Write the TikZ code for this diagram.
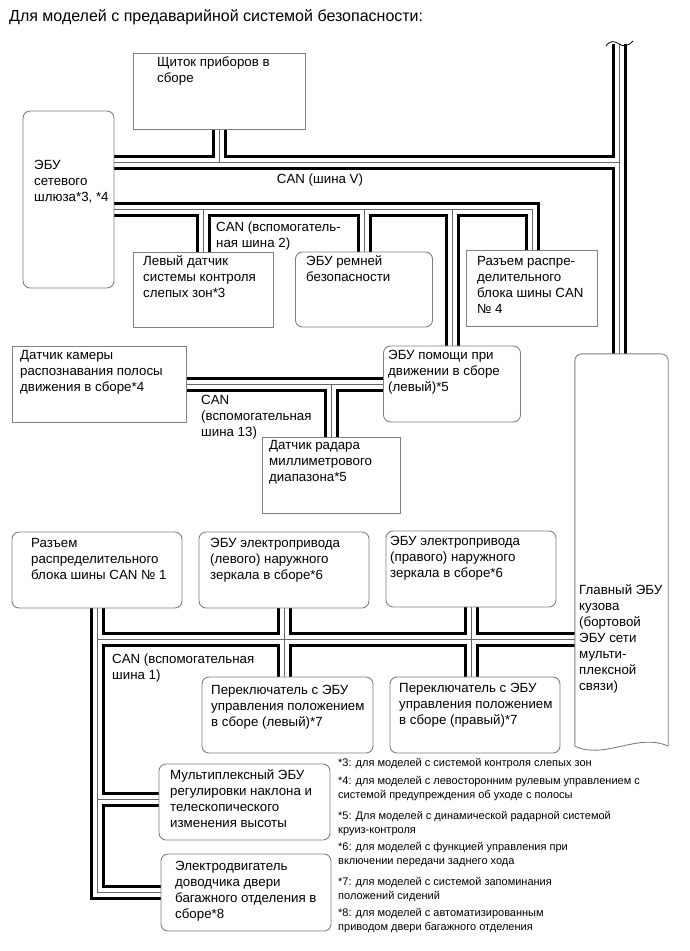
\documentclass[tikz,border=0pt]{standalone}
\usepackage{fontspec}
\setmainfont{Liberation Sans}
\usetikzlibrary{calc}
\pgfdeclarelayer{bg}
\pgfsetlayers{bg,main}
\begin{document}
\begin{tikzpicture}[x=1pt,y=-1pt,
  boxline/.style={draw=black!50, line width=0.9pt},
  sqbox/.style={boxline, rectangle, inner sep=0pt},
  rbox/.style={boxline, rectangle, rounded corners=7pt, inner sep=0pt},
  txt/.style={font=\fontsize{13.3}{16}\selectfont, align=left, inner sep=0pt, anchor=north west},
  note/.style={font=\fontsize{11}{14}\selectfont, align=left, inner sep=0pt, anchor=north west},
  busA/.style={line width=15pt, black, line join=miter, line cap=butt},
  busB/.style={line width=9pt, white, line join=miter, line cap=butt},
  busC/.style={line width=0.8pt, black!60, line join=miter, line cap=butt},
]
\useasboundingbox (0,0) rectangle (690,951);

% title
\node[txt, font=\fontsize{16}{19}\selectfont] (title) at (9,8.2) {\strut Для моделей с предаварийной системой безопасности:};

% boxes
\node[sqbox, minimum width=172pt, minimum height=76pt] (shchitok) at (219,91) {};
\node[rbox, minimum width=91pt, minimum height=177pt] (gateway) at (68.5,199.5) {};
\node[sqbox, minimum width=140pt, minimum height=75pt] (leftsensor) at (203,289.5) {};
\node[rbox, minimum width=137pt, minimum height=75pt] (belt) at (364,289.5) {};
\node[sqbox, minimum width=131pt, minimum height=76pt] (conn4) at (532,288) {};
\node[sqbox, minimum width=174pt, minimum height=76pt] (camera) at (99,384) {};
\node[rbox, minimum width=137pt, minimum height=76pt] (assist) at (452,384) {};
\node[sqbox, minimum width=138pt, minimum height=76pt] (radar) at (331,475) {};
\node[rbox, minimum width=170pt, minimum height=76pt] (conn1) at (97,570) {};
\node[rbox, minimum width=170pt, minimum height=76pt] (mirrorL) at (284,570) {};
\node[rbox, minimum width=170pt, minimum height=76pt] (mirrorR) at (471,569) {};
\node[rbox, minimum width=171pt, minimum height=76pt] (switchL) at (287.5,715) {};
\node[rbox, minimum width=170pt, minimum height=76pt] (switchR) at (475,715) {};
\node[rbox, minimum width=171pt, minimum height=76pt] (multi) at (244.5,802) {};
\node[rbox, minimum width=170pt, minimum height=77pt] (motor) at (246,892.5) {};
\node[rectangle, inner sep=0pt, minimum width=93pt, minimum height=392pt] (mainecu) at (621.5,550) {};
\draw[boxline, rounded corners=7pt] (mainecu.south west) -- (mainecu.north west) -- (mainecu.north east) -- (mainecu.south east);
\draw[boxline] (mainecu.south west) .. controls +(30,14) and +(-30,-14) .. (mainecu.south east);

% bus coordinates
\coordinate (busV) at (0,162);
\coordinate (bus2) at (0,209);
\coordinate (bus1) at (0,639);
\coordinate (busM) at (0,799);
\coordinate (vtop) at (619,44);

\newcommand\busnet[1]{%
  \draw[#1] (gateway.east |- busV) -- (vtop |- busV);
  \draw[#1] (shchitok.south) -- (shchitok.south |- busV);
  \draw[#1] (vtop) -- (vtop |- mainecu.north);
  \draw[#1] (gateway.east |- bus2) -- (conn4.north |- bus2) -- (conn4.north);
  \draw[#1] (leftsensor.north |- bus2) -- (leftsensor.north);
  \draw[#1] (belt.north |- bus2) -- (belt.north);
  \draw[#1] (assist.north |- bus2) -- (assist.north);
  \draw[#1] (camera.east) -- (camera.east -| assist.west);
  \draw[#1] (radar.north |- camera.east) -- (radar.north);
  \draw[#1] (conn1.south) -- (conn1.south |- motor.west) -- (motor.west);
  \draw[#1] (conn1.south |- bus1) -- (mainecu.west |- bus1);
  \draw[#1] (conn1.south |- busM) -- (multi.west |- busM);
  \draw[#1] (mirrorL.south) -- (mirrorL.south |- switchL.north);
  \draw[#1] (mirrorR.south) -- (mirrorR.south |- switchR.north);
}
\begin{pgfonlayer}{bg}
  \busnet{busA}
  \busnet{busB}
  \busnet{busC}
\end{pgfonlayer}
% break mark at the top of the bus
\draw[line width=0.8pt] ($(vtop)+(-13,2)$) .. controls +(4,-6) and +(-4,-3) .. (vtop) .. controls +(4,3) and +(-4,5) .. ($(vtop)+(14,-3)$);

% texts in boxes
\node[txt] (t-shchitok) at (157,54.8) {\strut Щиток приборов в\\сборе};
\node[txt] (t-gateway) at (34,157.8) {\strut ЭБУ\\сетевого\\шлюза*3, *4};
\node[txt] (t-leftsensor) at (143,253.8) {\strut Левый датчик\\системы контроля\\слепых зон*3};
\node[txt] (t-belt) at (306,253.8) {\strut ЭБУ ремней\\безопасности};
\node[txt] (t-conn4) at (477,253.8) {\strut Разъем распре-\\делительного\\блока шины CAN\\№ 4};
\node[txt] (t-camera) at (20,347.8) {\strut Датчик камеры\\распознавания полосы\\движения в сборе*4};
\node[txt] (t-assist) at (388,347.8) {\strut ЭБУ помощи при\\движении в сборе\\(левый)*5};
\node[txt] (t-radar) at (269,437.8) {\strut Датчик радара\\миллиметрового\\диапазона*5};
\node[txt] (t-conn1) at (31,535.8) {\strut Разъем\\распределительного\\блока шины CAN № 1};
\node[txt] (t-mirrorL) at (210,535.8) {\strut ЭБУ электропривода\\(левого) наружного\\зеркала в сборе*6};
\node[txt] (t-mirrorR) at (390,533.8) {\strut ЭБУ электропривода\\(правого) наружного\\зеркала в сборе*6};
\node[txt] (t-main) at (579,582.8) {\strut Главный ЭБУ\\кузова\\(бортовой\\ЭБУ сети\\мульти-\\плексной\\связи)};
\node[txt] (t-switchL) at (211,682.8) {\strut Переключатель с ЭБУ\\управления положением\\в сборе (левый)*7};
\node[txt] (t-switchR) at (399,680.8) {\strut Переключатель с ЭБУ\\управления положением\\в сборе (правый)*7};
\node[txt] (t-multi) at (170,767.8) {\strut Мультиплексный ЭБУ\\регулировки наклона и\\телескопического\\изменения высоты};
\node[txt] (t-motor) at (175,858.8) {\strut Электродвигатель\\доводчика двери\\багажного отделения в\\сборе*8};

% bus labels
\node[txt, anchor=center] (l-canv) at (320,180) {CAN (шина V)};
\node[txt] (l-can2) at (216,219.8) {\strut CAN (вспомогатель-\\ная шина 2)};
\node[txt] (l-can13) at (201,392.8) {\strut CAN\\(вспомогательная\\шина 13)};
\node[txt] (l-can1) at (112,651.8) {\strut CAN (вспомогательная\\шина 1)};

% footnotes
\node[note] (n3) at (338,756.5) {\strut *3: для моделей с системой контроля слепых зон};
\node[note] (n4) at (338,774.5) {\strut *4: для моделей с левосторонним рулевым управлением с\\системой предупреждения об уходе с полосы};
\node[note] (n5) at (338,809.5) {\strut *5: Для моделей с динамической радарной системой\\круиз-контроля};
\node[note] (n6) at (338,840.5) {\strut *6: для моделей с функцией управления при\\включении передачи заднего хода};
\node[note] (n7) at (338,875.5) {\strut *7: для моделей с системой запоминания\\положений сидений};
\node[note] (n8) at (338,906.5) {\strut *8: для моделей с автоматизированным\\приводом двери багажного отделения};
\end{tikzpicture}
\end{document}
